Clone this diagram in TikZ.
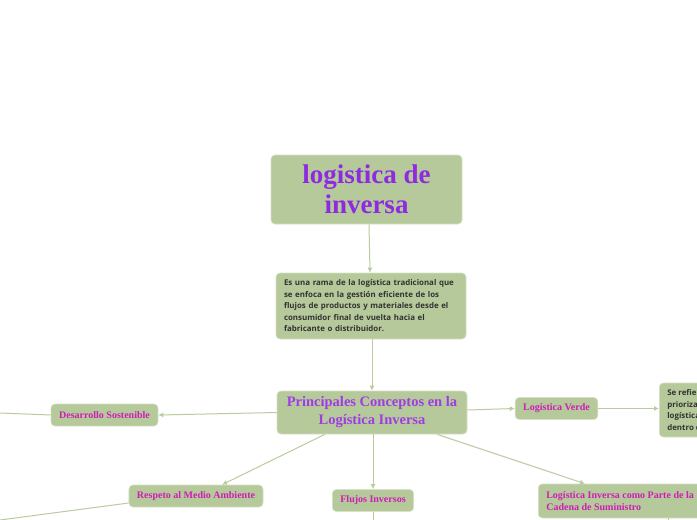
\documentclass[tikz,border=0pt]{standalone}
\usepackage{fontspec}
\setmainfont{Liberation Serif}
\newfontfamily\descfont{Open Sans}
\usepackage{tikz}
\usetikzlibrary{arrows.meta, positioning}
\definecolor{sage}{HTML}{B5C99A}
\definecolor{sageline}{HTML}{B9CC9F}
\definecolor{violet}{HTML}{8E2BE0}
\definecolor{orchid}{HTML}{A03CE6}
\definecolor{magen}{HTML}{D01CB8}
\definecolor{ink}{HTML}{333333}
\tikzset{
    topic/.style={draw=sage!55!white, fill=sage, rounded corners=4pt, line width=0.6pt,
                  align=center, inner sep=0pt},
    title/.style={topic, font=\fontsize{27}{30}\selectfont\bfseries, text=violet,
                  minimum width=191pt, minimum height=69pt},
    main/.style={topic, font=\fontsize{14.5}{18}\selectfont\bfseries, text=orchid,
                 minimum width=190pt, minimum height=43pt},
    sub/.style={topic, font=\fontsize{10}{12}\selectfont\bfseries, text=magen,
                inner xsep=8pt, minimum height=22pt},
    note/.style={topic, font=\descfont\fontsize{7.9}{11.5}\selectfont\bfseries, text=ink,
                 align=left, inner xsep=8pt, inner ysep=5pt},
    arr/.style={-{Latex[length=5pt,width=5pt]}, line width=1pt, sageline},
    ln/.style={line width=1pt, sageline}
}
\begin{document}
\begin{tikzpicture}[x=1pt, y=-1pt]
    \useasboundingbox[fill=white] (0,0) rectangle (697,520);
    \clip (0,0) rectangle (697,520);
    \node[title] (root) at (366.5,189.5) {logistica de\\inversa};
    \node[note, minimum width=190pt, minimum height=66pt, text width=174pt] (def) at (371,306)
        {Es una rama de la logística tradicional que\\se enfoca en la gestión eficiente de los\\flujos de productos y materiales desde el\\consumidor final de vuelta hacia el\\fabricante o distribuidor.};
    \node[main] (conc) at (372,412.5) {Principales Conceptos en la\\Logística Inversa};
    \node[sub, minimum width=107pt] (sost) at (104.5,415) {Desarrollo Sostenible};
    \node[sub, minimum width=81pt] (verde) at (556.5,408.5) {Logística Verde};
    \node[note, minimum height=54pt, anchor=west] (vdef) at (659,410)
        {Se refiere a la\\priorización de la\\logística sostenible\\dentro de la cadena};
    \node[sub, minimum width=132pt] (resp) at (196,496) {Respeto al Medio Ambiente};
    \node[sub, minimum width=80pt] (flujo) at (373,500.5) {Flujos Inversos};
    \node[sub, align=left, minimum height=34pt, anchor=west] (cad) at (538,501)
        {Logística Inversa como Parte de la\\Cadena de Suministro};
    % free ends off the page
    \coordinate (sostend) at (0,413);
    \coordinate (respend) at (0,520);
    \coordinate (flujoend) at (373,525);
    \coordinate (cadend) at (668,525);
    \draw[arr] (root.south -| 369,0) -- (def.north -| 370,0);
    \draw[arr] (def.south -| 372,0) -- (conc.north -| 372,0);
    \draw[arr] (conc.west) -- (sost.east);
    \draw[ln] (sost.west) -- (sostend);
    \draw[arr] (conc.east |- 0,410) -- (verde.west);
    \draw[arr] (verde.east) -- (vdef.west |- verde.east);
    \draw[arr] (conc.south -| 325,0) -- (resp.north -| 222,0);
    \draw[arr] (conc.south -| 373,0) -- (flujo.north);
    \draw[arr] (conc.south -| 437,0) -- (cad.north -| 585,0);
    \draw[ln] (resp.west |- 0,503) -- (respend);
    \draw[ln] (flujo.south) -- (flujoend);
    \draw[ln] (cad.south -| 668,0) -- (cadend);
\end{tikzpicture}
\end{document}
